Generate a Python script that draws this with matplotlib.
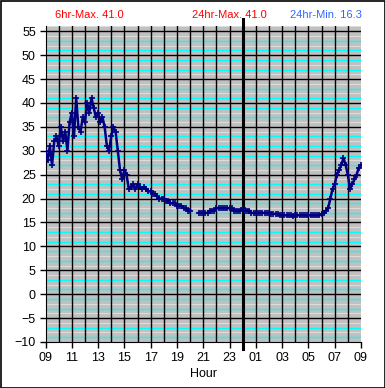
import numpy as np
import matplotlib
matplotlib.use("Agg")
import matplotlib.pyplot as plt
from matplotlib.patches import Rectangle

plt.rcParams['font.family'] = ['Liberation Sans', 'DejaVu Sans']

# Temperatures at 10-minute steps from 09:00 to 09:00 next day (NaN = missing)
nan = float('nan')
temps = [
    30, 28, 31, 27, 32, 33,
    31, 35, 32, 34, 30, 36,
    38, 33, 41, 35, 34, 37,
    36, 40, 38, 41, 39, 37,
    38, 36, 37, 35, 31, 30,
    33, 35, 34, 30, 26, 24,
    26, 25, 22, 22.5, 23, 22,
    23, 22.5, 22, 22.5, 22, 21.5,
    21.5, 21, 21, 20.5, 20, 20,
    20, 19.5, 19.5, 19, 19, 19,
    18.5, 18.5, 18.5, 18, 18, 17.5,
    17.5, nan, nan, nan, 17, 17,
    17, 17, 17, 17.5, 17.5, 17.5,
    18, 18, 18, 18, 18, 18,
    18, 18, 17.5, 17.5, 17.5, 17.5,
    18, 17.5, 17.5, 17.5, 17, 17,
    17, 17, 17, 17, 17, 17,
    17, 16.8, 16.8, 16.8, 16.8, 16.5,
    16.5, 16.5, 16.5, 16.5, 16.5, 16.3,
    16.5, 16.5, 16.5, 16.5, 16.5, 16.5,
    16.5, 16.5, 16.5, 16.5, 16.5, 16.5,
    16.8, 17, 17.5, 18, 20, 22,
    23, 25, 26, 27, 28.5, 27,
    25, 22, 23, 24, 25, 26.5,
    27,
]
hours = [i / 6 for i in range(len(temps))]
xtick_labels = ['09', '11', '13', '15', '17', '19', '21', '23',
                '01', '03', '05', '07', '09']
title_6hr_max = "6hr-Max. 41.0"
title_24hr_max = "24hr-Max. 41.0"
title_24hr_min = "24hr-Min. 16.3"

fig = plt.figure(figsize=(3.85, 3.88), dpi=100)
fig.patch.set_facecolor('white')
ax = fig.add_axes([45.5/385, 1-342/388, (361-45.5)/385, (342-26)/388])
ax.set_facecolor('#c0c0c0')
ymin, ymax = -10, 56.1
ax.set_xlim(0, 24)
ax.set_ylim(ymin, ymax)

# minor grid lines: cyan at odd values, light grey at even values
for v in range(-10, 57):
    if v % 5 == 0:
        continue
    if v % 2 != 0:
        ax.axhline(v, color='#00ffff', lw=1.0, zorder=1)
    else:
        ax.axhline(v, color='#dcdcdc', lw=0.8, zorder=1)
for v in range(-5, 56, 5):
    ax.axhline(v, color='black', lw=1.0, zorder=2)
for h in range(1, 24):
    ax.axvline(h, color='black', lw=1.0, zorder=2)

# midnight marker
ax.plot([15, 15], [-11.5, 57.5], color='black', lw=2.2, zorder=3, clip_on=False)

ax.plot(hours, temps, color='#000080', lw=1.8, marker='+', ms=4, mew=1.2, zorder=4)

ax.set_yticks(range(-10, 56, 5))
ax.set_xticks(range(0, 25, 2))
ax.set_xticklabels(xtick_labels)
ax.tick_params(axis='both', direction='out', length=4, width=1, colors='black',
               labelsize=9, pad=3)
for s in ax.spines.values():
    s.set_visible(False)
ax.spines['left'].set_visible(True)
ax.spines['bottom'].set_visible(True)
ax.set_xlabel('Hour', fontsize=9, labelpad=3)

fig.text(55/385, 1-15/388, title_6hr_max, color='#ff0000', fontsize=8, va='center', ha='left')
fig.text(192/385, 1-15/388, title_24hr_max, color='#ff0000', fontsize=8, va='center', ha='left')
fig.text(290/385, 1-15/388, title_24hr_min, color='#3366ff', fontsize=8, va='center', ha='left')

fig.patches.append(Rectangle((0.5/385, 0.5/388), 1-1/385, 1-1/388, transform=fig.transFigure,
                             fill=False, edgecolor='black', lw=1.2))

fig.savefig('out.png', dpi=100)
